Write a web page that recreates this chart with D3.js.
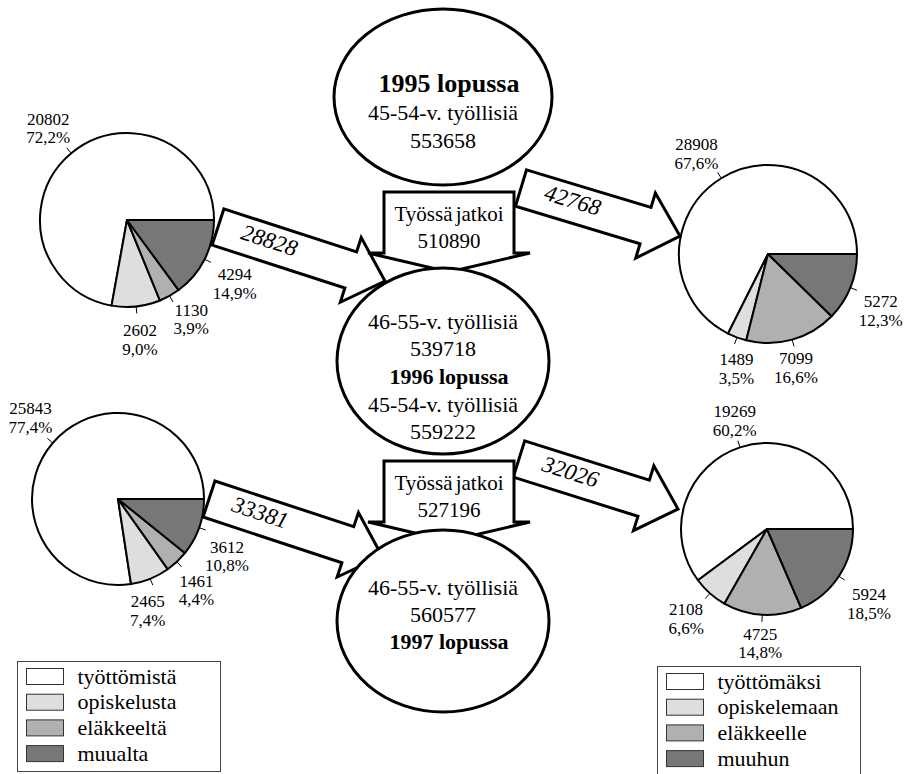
<!DOCTYPE html>
<html>
<head>
<meta charset="utf-8">
<script src="https://cdn.jsdelivr.net/npm/d3@7"></script>
<style>
  body { margin: 0; background: #fff; }
  svg { display: block; }
  svg text { font-family: "Liberation Serif", "Times New Roman", Times, "DejaVu Serif", serif; }
</style>
</head>
<body>
<svg id="chart" width="905" height="774"></svg>
<script>
'use strict'

// ---- data ----
const inCategories = ["työttömistä", "opiskelusta", "eläkkeeltä", "muualta"];
const outCategories = ["työttömäksi", "opiskelemaan", "eläkkeelle", "muuhun"];
const in1996 = [20802, 2602, 1130, 4294];   // tulleet 1996
const out1996 = [28908, 1489, 7099, 5272];  // lähteneet 1996
const in1997 = [25843, 2465, 1461, 3612];   // tulleet 1997
const out1997 = [19269, 2108, 4725, 5924];  // lähteneet 1997
const stockStart1995 = 553658;   // 45-54-v. työllisiä 1995 lopussa
const continued1996 = 510890;
const stockEnd1996 = 539718;     // 46-55-v. työllisiä
const stockStart1996 = 559222;   // 45-54-v. työllisiä 1996 lopussa
const continued1997 = 527196;
const stockEnd1997 = 560577;     // 46-55-v. työllisiä
const sliceColors = ["#ffffff", "#dedede", "#b0b0b0", "#777777"];

// ---- layout ----
const svg = d3.select("#chart");
const color = d3.scaleOrdinal().domain(d3.range(4)).range(sliceColors);
const fmtPct = v => d3.format(".1f")(v).replace(".", ",") + "%";

// nudge = label shifts [white, light, medium, dark]
const pies = [
    { values: in1996, cx: 127, cy: 220, r: 87, nudge: [[0, 0], [0, 0], [4, -6], [-2, 9]] },
    { values: out1996, cx: 768, cy: 254, r: 89, nudge: [[-6, 3], [12, 0], [-6, -4], [-3, 10]] },
    { values: in1997, cx: 118, cy: 499, r: 86, nudge: [[5, -4], [-16, 1], [-5, 4], [-6, 17]] },
    { values: out1997, cx: 767, cy: 529, r: 86, nudge: [[6, 4], [0, 0], [0, -5], [0, 9]] }
];

// slices run counter-clockwise from 3 o'clock, like the original
const pie = d3.pie().sort(null).value(d => d.v)
    .startAngle(Math.PI / 2)
    .endAngle(Math.PI / 2 - 2 * Math.PI);

pies.forEach(p => {
    const total = d3.sum(p.values);
    const arc = d3.arc().innerRadius(0).outerRadius(p.r);
    const g = svg.append("g").attr("transform", `translate(${p.cx},${p.cy})`);
    const slices = pie(p.values.map((v, i) => ({ v, i })));

    g.selectAll("path")
        .data(slices)
        .enter().append("path")
        .attr("d", arc)
        .attr("fill", d => color(d.data.i))
        .attr("stroke", "#000")
        .attr("stroke-width", 2)
        .attr("stroke-linejoin", "round");

    slices.forEach((s, i) => {
        const a = (s.startAngle + s.endAngle) / 2;
        const dx = Math.sin(a), dy = -Math.cos(a);
        g.append("line")
            .attr("x1", dx * p.r).attr("y1", dy * p.r)
            .attr("x2", dx * (p.r + 7)).attr("y2", dy * (p.r + 7))
            .attr("stroke", "#000").attr("stroke-width", 1);
        const lx = dx * (p.r + 14) + dx * 22 + p.nudge[i][0];
        const ly = dy * (p.r + 14) + dy * 19 + p.nudge[i][1];
        const t = g.append("text")
            .attr("text-anchor", "middle")
            .attr("font-size", 17);
        t.append("tspan").attr("x", lx).attr("y", ly - 3).text(s.data.v);
        t.append("tspan").attr("x", lx).attr("y", ly + 15.5).text(fmtPct(s.data.v / total * 100));
    });
});

// ---- flow arrows ----
function blockArrow(t, p, bw, hw, hl) {
    const dx = p[0] - t[0], dy = p[1] - t[1], L = Math.hypot(dx, dy);
    const ux = dx / L, uy = dy / L, nx = -uy, ny = ux;
    const pt = (a, n) => [t[0] + ux * a + nx * n, t[1] + uy * a + ny * n];
    return {
        points: [pt(0, -bw), pt(L - hl, -bw), pt(L - hl, -hw), pt(L, 0), pt(L - hl, hw), pt(L - hl, bw), pt(0, bw)],
        label: pt(53, -3),
        angle: Math.atan2(dy, dx) * 180 / Math.PI
    };
}

const flows = [
    { value: d3.sum(in1996), tail: [218, 227], tip: [385, 281] },
    { value: d3.sum(out1996), tail: [521, 188], tip: [680, 236] },
    { value: d3.sum(in1997), tail: [209, 499], tip: [382, 556] },
    { value: d3.sum(out1997), tail: [519, 459], tip: [678, 509] }
];

const line = d3.line();
flows.forEach(f => {
    const a = blockArrow(f.tail, f.tip, 19, 34, 36);
    svg.append("path")
        .attr("d", line(a.points) + "Z")
        .attr("fill", "#fff")
        .attr("stroke", "#000")
        .attr("stroke-width", 3)
        .attr("stroke-linejoin", "miter");
    svg.append("text")
        .attr("transform", `translate(${a.label[0]},${a.label[1]}) rotate(${a.angle})`)
        .attr("text-anchor", "middle")
        .attr("dominant-baseline", "central")
        .attr("font-style", "italic")
        .attr("font-size", 23)
        .text(f.value);
});

// ---- "Työssä jatkoi" down arrows ----
const downArrows = [
    { value: continued1996, x0: 384, x1: 514, y0: 192, y1: 253, tipY: 272 },
    { value: continued1997, x0: 384, x1: 514, y0: 461, y1: 522, tipY: 541 }
];
downArrows.forEach(d => {
    const mx = (d.x0 + d.x1) / 2;
    const pts = [[d.x0, d.y0], [d.x1, d.y0], [d.x1, d.y1], [d.x1 + 16, d.y1], [mx, d.tipY],
                 [d.x0 - 16, d.y1], [d.x0, d.y1]];
    svg.append("path")
        .attr("d", line(pts) + "Z")
        .attr("fill", "#fff")
        .attr("stroke", "#000")
        .attr("stroke-width", 3);
    const t = svg.append("text").attr("text-anchor", "middle").attr("font-size", 21)
        .attr("word-spacing", -2);
    t.append("tspan").attr("x", mx).attr("y", d.y0 + 29).text("Työssä jatkoi");
    t.append("tspan").attr("x", mx).attr("y", d.y0 + 56).text(d.value);
});

// ---- stock ellipses ----
const ellipses = [
    { cx: 443, cy: 97, rx: 109, ry: 88, lines: [
        { t: "1995 lopussa", b: true, size: 26, y: 92 },
        { t: "45-54-v. työllisiä", y: 120 },
        { t: stockStart1995, y: 148 }] },
    { cx: 443, cy: 361, rx: 106, ry: 93, lines: [
        { t: "46-55-v. työllisiä", y: 329 },
        { t: stockEnd1996, y: 356 },
        { t: "1996 lopussa", b: true, y: 384 },
        { t: "45-54-v. työllisiä", y: 412 },
        { t: stockStart1996, y: 439 }] },
    { cx: 443, cy: 621, rx: 106, ry: 91, lines: [
        { t: "46-55-v. työllisiä", y: 595 },
        { t: stockEnd1997, y: 622 },
        { t: "1997 lopussa", b: true, y: 649 }] }
];
ellipses.forEach(e => {
    svg.append("ellipse")
        .attr("cx", e.cx).attr("cy", e.cy).attr("rx", e.rx).attr("ry", e.ry)
        .attr("fill", "#fff")
        .attr("stroke", "#000")
        .attr("stroke-width", 3);
    e.lines.forEach(l => {
        svg.append("text")
            .attr("x", e.cx + (l.b ? 6 : 0)).attr("y", l.y)
            .attr("text-anchor", "middle")
            .attr("font-size", l.size || 22)
            .attr("font-weight", l.b ? "bold" : null)
            .text(l.t);
    });
});

// ---- legends ----
function legend(x, y, h, cats) {
    const g = svg.append("g").attr("transform", `translate(${x},${y})`);
    g.append("rect").attr("width", 203).attr("height", h)
        .attr("fill", "#fff").attr("stroke", "#444").attr("stroke-width", 1);
    const rows = g.selectAll("g.row").data(cats).enter().append("g")
        .attr("transform", (d, i) => `translate(0,${15 + i * 25.7})`);
    rows.append("rect")
        .attr("x", 9).attr("y", -8).attr("width", 37).attr("height", 16)
        .attr("fill", (d, i) => color(i))
        .attr("stroke", "#333").attr("stroke-width", 1);
    rows.append("text")
        .attr("x", 60).attr("dy", "0.32em")
        .attr("font-size", 22)
        .text(d => d);
}
legend(17.5, 661.5, 110, inCategories);
legend(657.5, 666.5, 120, outCategories);
</script>
</body>
</html>
